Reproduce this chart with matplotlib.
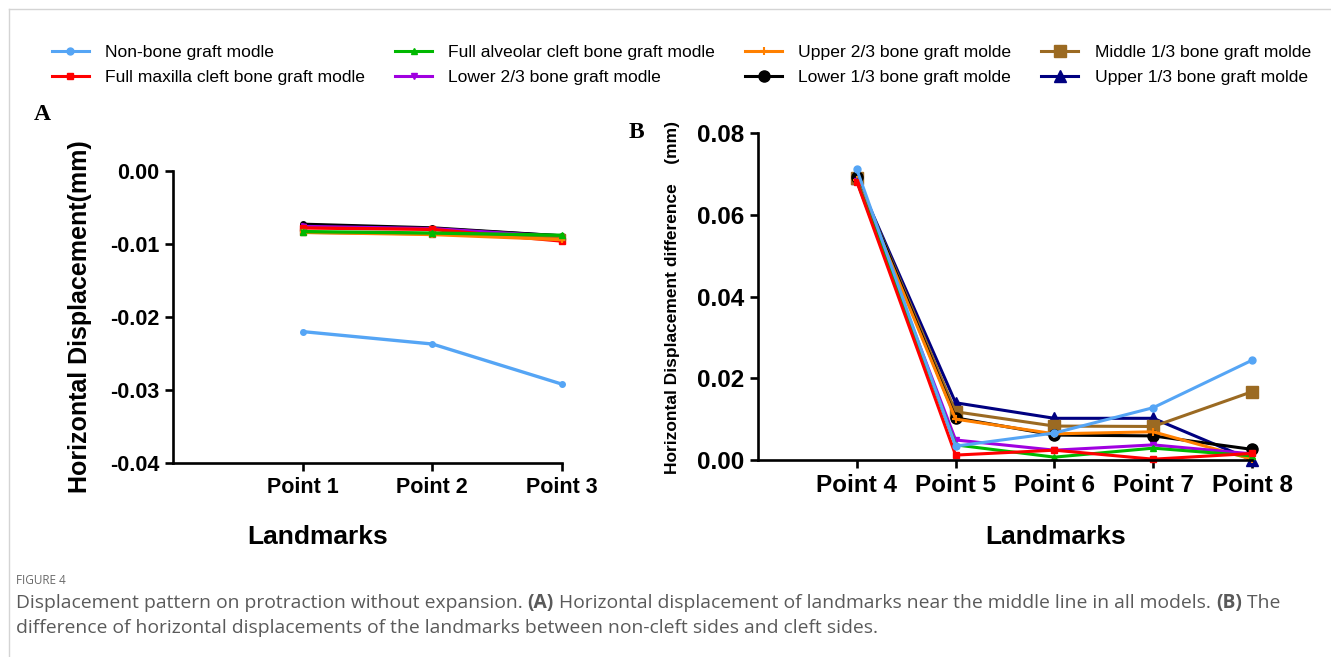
import matplotlib
matplotlib.use("Agg")

import matplotlib.pyplot as plt
from matplotlib.lines import Line2D

plt.rcParams["font.family"] = ["Liberation Sans", "DejaVu Sans"]

# Model names, in legend order
series_names = [
    "Non-bone graft modle",
    "Full maxilla cleft bone graft modle",
    "Full alveolar cleft bone graft modle",
    "Lower 2/3 bone graft modle",
    "Upper 2/3 bone graft molde",
    "Lower 1/3 bone graft molde",
    "Middle 1/3 bone graft molde",
    "Upper 1/3 bone graft molde",
]

# Panel A: horizontal displacement (mm) at Point 1..3
points_a = ["Point 1", "Point 2", "Point 3"]
non_bone_a = [-0.0220, -0.0237, -0.0292]
full_maxilla_a = [-0.0078, -0.0080, -0.0096]
full_alveolar_a = [-0.0083, -0.0085, -0.0088]
lower_23_a = [-0.0076, -0.0079, -0.0090]
upper_23_a = [-0.0084, -0.0087, -0.0094]
lower_13_a = [-0.0073, -0.0078, -0.0089]
middle_13_a = [-0.0084, -0.0086, -0.0090]
upper_13_a = [-0.0074, -0.0079, -0.0089]

# Panel B: displacement difference (mm) at Point 4..8
points_b = ["Point 4", "Point 5", "Point 6", "Point 7", "Point 8"]
non_bone_b = [0.0711, 0.0034, 0.0066, 0.0128, 0.0244]
full_maxilla_b = [0.0681, 0.0012, 0.0024, 0.0002, 0.0016]
full_alveolar_b = [0.0683, 0.0037, 0.0007, 0.0029, 0.0010]
lower_23_b = [0.0683, 0.0049, 0.0024, 0.0037, 0.0015]
upper_23_b = [0.0685, 0.0100, 0.0064, 0.0069, 0.0002]
lower_13_b = [0.0693, 0.0103, 0.0061, 0.0059, 0.0026]
middle_13_b = [0.0690, 0.0118, 0.0083, 0.0082, 0.0167]
upper_13_b = [0.0690, 0.0140, 0.0102, 0.0102, 0.0000]

series_a = [non_bone_a, full_maxilla_a, full_alveolar_a, lower_23_a,
            upper_23_a, lower_13_a, middle_13_a, upper_13_a]
series_b = [non_bone_b, full_maxilla_b, full_alveolar_b, lower_23_b,
            upper_23_b, lower_13_b, middle_13_b, upper_13_b]

styles = [
    dict(color="#55a5f5", marker="o", ms=5),
    dict(color="#ff0000", marker="s", ms=5),
    dict(color="#00b800", marker="^", ms=5),
    dict(color="#a000e0", marker="v", ms=4.5),
    dict(color="#ff8000", marker="+", ms=6, mew=1.5),
    dict(color="#000000", marker="o", ms=8),
    dict(color="#9b6a22", marker="s", ms=8),
    dict(color="#000080", marker="^", ms=8),
]
# drawing order (last on top)
order_a = [7, 5, 3, 1, 6, 4, 2, 0]
order_b = [7, 6, 5, 4, 3, 2, 1, 0]

W, H = 1331, 657
fig = plt.figure(figsize=(W / 100, H / 100), dpi=100)


def box(x0, y0, x1, y1):
    return [x0 / W, 1 - y1 / H, (x1 - x0) / W, (y1 - y0) / H]


def style_axes(ax, tick_size):
    for s in ["top", "right"]:
        ax.spines[s].set_visible(False)
    for s in ["left", "bottom"]:
        ax.spines[s].set_linewidth(1.9)
    ax.tick_params(width=1.9, length=6, labelsize=tick_size, pad=4)
    for lab in ax.get_xticklabels() + ax.get_yticklabels():
        lab.set_fontweight("bold")


# Panel A (smaller markers, lines sit close together)
ax1 = fig.add_axes(box(173, 171, 562, 463))
x_a = range(1, len(points_a) + 1)
for i in order_a:
    st = dict(styles[i])
    st["ms"] = min(st["ms"], 5) * 0.8
    ax1.plot(x_a, series_a[i], lw=2.4, clip_on=False, **st)
ax1.set_xlim(0, 3)
ax1.set_ylim(-0.04, 0)
ax1.set_xticks(list(x_a))
ax1.set_xticklabels(points_a)
ax1.set_yticks([0, -0.01, -0.02, -0.03, -0.04])
ax1.set_yticklabels(["0.00", "-0.01", "-0.02", "-0.03", "-0.04"])
style_axes(ax1, 15.5)

# Panel B
ax2 = fig.add_axes(box(758, 133, 1252, 460))
x_b = range(1, len(points_b) + 1)
for i in order_b:
    ax2.plot(x_b, series_b[i], lw=2.2, clip_on=False, **styles[i])
ax2.set_xlim(0, 5)
ax2.set_ylim(0, 0.08)
ax2.set_xticks(list(x_b))
ax2.set_xticklabels(points_b)
ax2.set_yticks([0, 0.02, 0.04, 0.06, 0.08])
ax2.set_yticklabels(["0.00", "0.02", "0.04", "0.06", "0.08"])
style_axes(ax2, 17.5)

# Axis titles
fig.text(80 / W, 1 - 317 / H, "Horizontal Displacement(mm)", rotation=90,
         ha="center", va="center", fontsize=18, fontweight="bold")
fig.text(673 / W, 1 - 298 / H, "Horizontal Displacement difference    (mm)",
         rotation=90, ha="center", va="center", fontsize=12.5, fontweight="bold")
fig.text(318 / W, 1 - 537 / H, "Landmarks", ha="center", va="center",
         fontsize=19, fontweight="bold")
fig.text(1056 / W, 1 - 537 / H, "Landmarks", ha="center", va="center",
         fontsize=19, fontweight="bold")

# Panel letters
fig.text(42 / W, 1 - 115 / H, "A", ha="center", va="center", fontsize=17,
         fontweight="bold", family="Liberation Serif")
fig.text(636 / W, 1 - 133 / H, "B", ha="center", va="center", fontsize=17,
         fontweight="bold", family="Liberation Serif")

# Legend across the top
handles = [Line2D([], [], lw=2.2, **styles[i]) for i in range(len(series_names))]
fig.legend(handles, series_names, ncol=4, loc="upper left",
           bbox_to_anchor=(52 / W, 1 - 45 / H), frameon=False, fontsize=12.6,
           handlelength=2.1, handletextpad=0.95, columnspacing=1.7,
           labelspacing=0.56, borderpad=0, borderaxespad=0)

# Light frame on the left and top edges
fig.add_artist(Line2D([9 / W, 9 / W], [0, 1 - 9 / H], color="#d4d4d4", lw=1,
                      transform=fig.transFigure))
fig.add_artist(Line2D([9 / W, 1], [1 - 9 / H, 1 - 9 / H], color="#d4d4d4", lw=1,
                      transform=fig.transFigure))

# Caption
cap_color = "#5a5a5a"
fig.text(16 / W, 1 - 580 / H, "FIGURE 4", fontsize=8.5, color="#6a6a6a",
         family="Open Sans", va="center")

renderer = fig.canvas.get_renderer()


def caption_line(pieces, y, size):
    x = 16
    for txt, bold in pieces:
        t = fig.text(x / W, 1 - y / H, txt, fontsize=size, color=cap_color,
                     family="Open Sans", fontweight="bold" if bold else "normal",
                     va="center")
        x += t.get_window_extent(renderer).width


line1 = [("Displacement pattern on protraction without expansion. ", False),
         ("(A)", True),
         (" Horizontal displacement of landmarks near the middle line in all models. ", False),
         ("(B)", True),
         (" The", False)]
line2 = [("difference of horizontal displacements of the landmarks between non-cleft sides and cleft sides.", False)]
caption_line(line1, 603, 13.9)
caption_line(line2, 628, 13.9)

fig.savefig("out.png", dpi=100)
